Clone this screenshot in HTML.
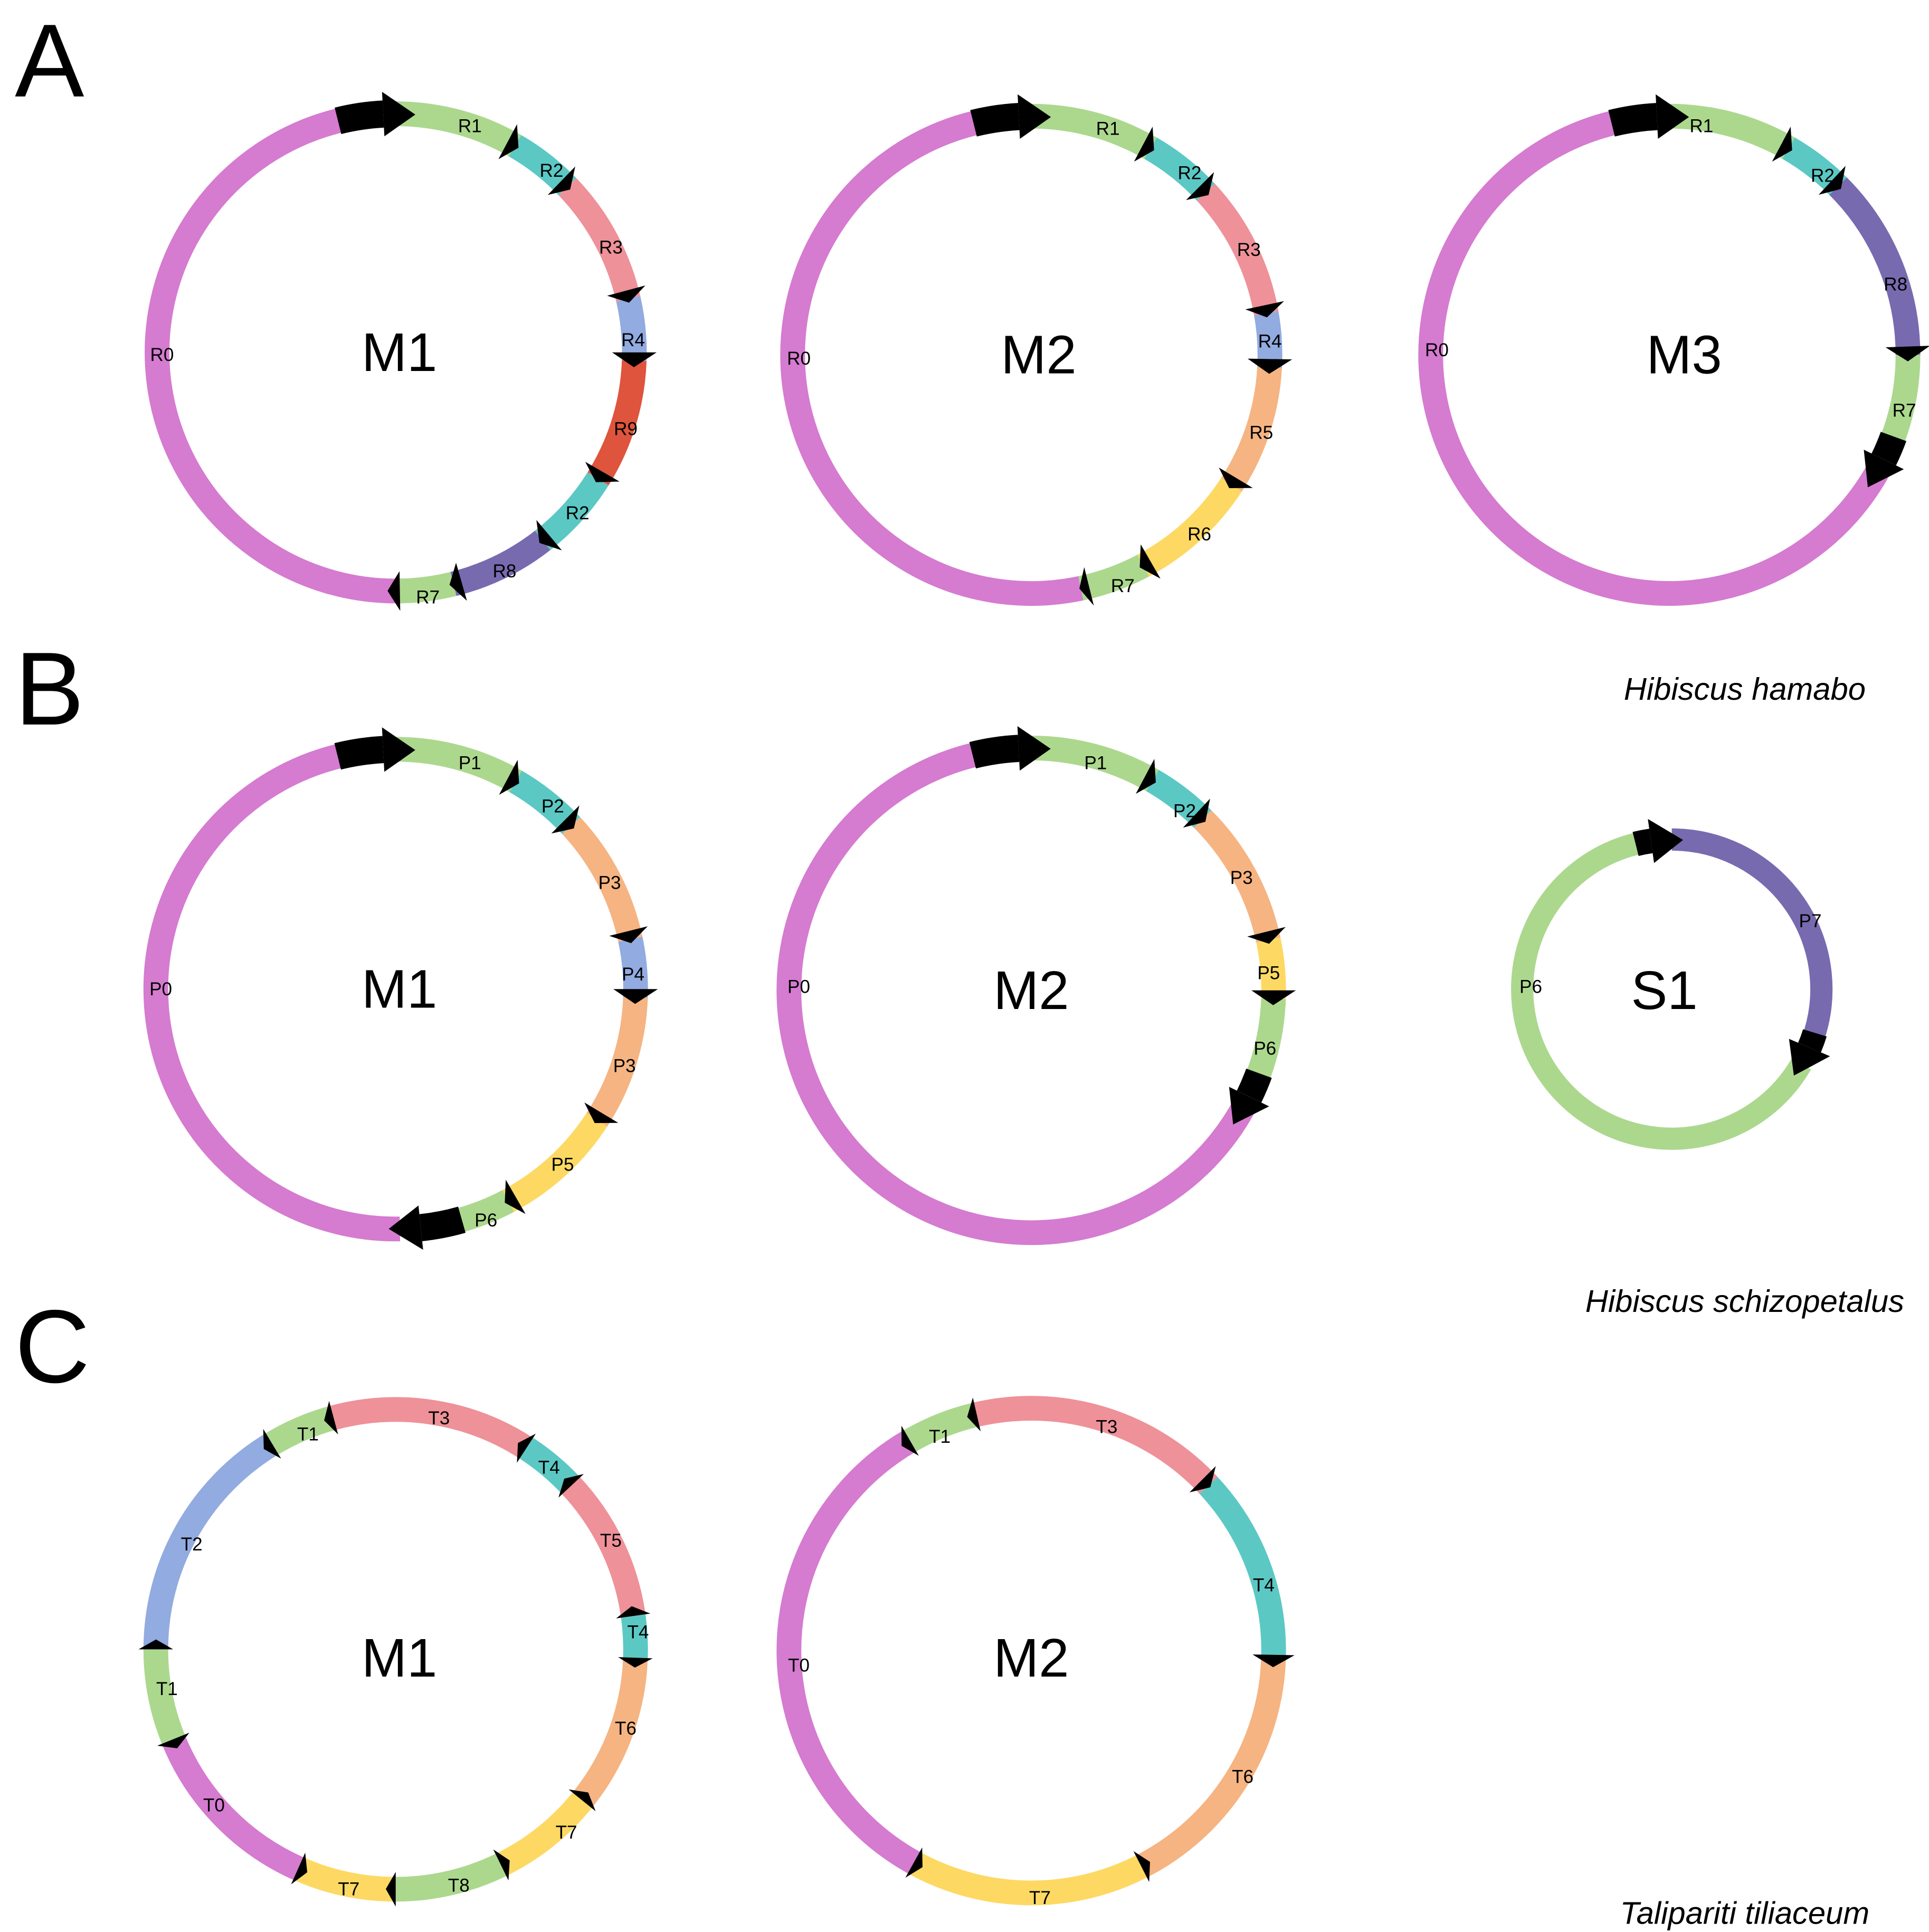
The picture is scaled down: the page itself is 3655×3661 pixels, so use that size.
<!DOCTYPE html>
<html><head><meta charset="utf-8"><style>
html,body{margin:0;padding:0;background:#fff}
svg{display:block}
text{font-family:"Liberation Sans",Arial,sans-serif}
.l{font-size:15px}
.m{font-size:44px}
.big{font-size:84px}
.sp{font-size:25.5px;font-style:italic}
</style></head><body>
<svg id="s" width="3655" height="3661" viewBox="0 0 1560 1562.6" xmlns="http://www.w3.org/2000/svg">
<g id="g"></g>
<text class="big" x="12" y="78">A</text>
<text class="big" x="12" y="586">B</text>
<text class="big" x="12" y="1118">C</text>
<text class="sp" x="1411" y="566" text-anchor="middle">Hibiscus hamabo</text>
<text class="sp" x="1411" y="1061" text-anchor="middle">Hibiscus schizopetalus</text>
<text class="sp" x="1411" y="1556" text-anchor="middle">Talipariti tiliaceum</text>
<g text-anchor="middle">
<text class="m" x="323" y="300">M1</text>
<text class="m" x="840" y="302">M2</text>
<text class="m" x="1362" y="302">M3</text>
<text class="m" x="323" y="815">M1</text>
<text class="m" x="834" y="816">M2</text>
<text class="m" x="1346" y="816">S1</text>
<text class="m" x="323" y="1356">M1</text>
<text class="m" x="834" y="1356">M2</text>
</g>
<g class="l" text-anchor="middle">
<text x="380" y="107">R1</text><text x="446" y="143">R2</text><text x="494" y="205">R3</text><text x="512" y="280">R4</text><text x="506" y="352">R9</text><text x="467" y="420">R2</text><text x="408" y="467">R8</text><text x="346" y="488">R7</text><text x="131" y="292">R0</text>
<text x="896" y="109">R1</text><text x="962" y="145">R2</text><text x="1010" y="207">R3</text><text x="1027" y="281">R4</text><text x="1020" y="355">R5</text><text x="970" y="437">R6</text><text x="908" y="479">R7</text><text x="646" y="295">R0</text>
<text x="1376" y="107">R1</text><text x="1474" y="147">R2</text><text x="1533" y="235">R8</text><text x="1540" y="337">R7</text><text x="1162" y="288">R0</text>
<text x="380" y="622">P1</text><text x="447" y="657">P2</text><text x="493" y="719">P3</text><text x="512" y="793">P4</text><text x="505" y="867">P3</text><text x="455" y="947">P5</text><text x="393" y="992">P6</text><text x="130" y="805">P0</text>
<text x="886" y="622">P1</text><text x="958" y="661">P2</text><text x="1004" y="715">P3</text><text x="1026" y="792">P5</text><text x="1023" y="853">P6</text><text x="646" y="803">P0</text>
<text x="1464" y="750">P7</text><text x="1238" y="803">P6</text>
<text x="355" y="1152">T3</text><text x="249" y="1165">T1</text><text x="444" y="1192">T4</text><text x="155" y="1254">T2</text><text x="494" y="1251">T5</text><text x="516" y="1325">T4</text><text x="135" y="1371">T1</text><text x="506" y="1403">T6</text><text x="173" y="1465">T0</text><text x="458" y="1487">T7</text><text x="371" y="1530">T8</text><text x="282" y="1533">T7</text>
<text x="760" y="1167">T1</text><text x="895" y="1159">T3</text><text x="1022" y="1287">T4</text><text x="1005" y="1442">T6</text><text x="841" y="1540">T7</text><text x="646" y="1352">T0</text>
</g>
</svg>
<script>
var NS="http://www.w3.org/2000/svg",G=document.getElementById('g');
var C={mg:"#d57bd0",gr:"#acd88e",te:"#5bc8c4",pk:"#ee9199",bl:"#92abe0",rd:"#de543c",pu:"#786aaf",or:"#f5b482",ye:"#fdd963",k:"#000"};
var W=20;
function pt(cx,cy,r,a){var t=a*Math.PI/180;return [cx+r*Math.sin(t),cy-r*Math.cos(t)];}
function arc(cx,cy,r,a0,a1,col,w){var p=pt(cx,cy,r,a0),q=pt(cx,cy,r,a1);var d=a1-a0;var e=document.createElementNS(NS,'path');
e.setAttribute('d','M'+p[0]+' '+p[1]+' A'+r+' '+r+' 0 '+(Math.abs(d)>180?1:0)+' '+(d>0?1:0)+' '+q[0]+' '+q[1]);
e.setAttribute('fill','none');e.setAttribute('stroke',C[col]);e.setAttribute('stroke-width',w||W);G.appendChild(e);}
function head(cx,cy,r,a,len,hw,dir){dir=dir||1;var p1=pt(cx,cy,r-hw,a),p2=pt(cx,cy,r+hw,a),t=pt(cx,cy,r,a+dir*len*57.3/r);
var e=document.createElementNS(NS,'polygon');e.setAttribute('points',p1+' '+t+' '+p2);e.setAttribute('fill','#000');G.appendChild(e);}
function ring(cx,cy,r,segs,arrows,blocks,w){
segs.forEach(function(s){arc(cx,cy,r,s[0],s[1],s[2],w);});
(blocks||[]).forEach(function(b){arc(cx,cy,r,b[0],b[1],'k',(w||W)+2);head(cx,cy,r,b[1],26,18,1);});
(arrows||[]).forEach(function(a){head(cx,cy,r,a[0],a[1]||10,a[2]||16,a[3]||1);});}
// A M1
ring(320,285,193,[[178,346.5,'mg'],[-10,30,'gr'],[30,46,'te'],[46,77,'pk'],[77,92,'bl'],[92,122,'rd'],[122,142,'te'],[142,166,'pu'],[166,180,'gr']],
[[28],[44],[75],[90,12,18],[120],[140],[164],[179]],[[-14,-3]]);
// A M2
ring(834,287,193,[[168,346.5,'mg'],[-10,30,'gr'],[30,47,'te'],[47,80,'pk'],[80,93,'bl'],[93,123,'or'],[123,152,'ye'],[152,168,'gr']],
[[28],[45],[78],[91,12,18],[121],[150],[166,8]],[[-14,-3]]);
// A M3
ring(1350,287,193,[[119,346.5,'mg'],[-10,30,'gr'],[30,45,'te'],[45,90,'pu'],[90,111,'gr']],
[[28],[43],[88,12,18]],[[-14,-3],[110,116]]);
// B M1
ring(320,800,194,[[179,346.5,'mg'],[-10,30,'gr'],[30,47,'te'],[47,78,'or'],[78,92,'bl'],[92,123,'or'],[123,152,'ye'],[152,165,'gr']],
[[28],[45],[76],[90,12,18],[121],[150]],[[-14,-3],[164,174]]);
// B M2
ring(834,801,196,[[119,346.5,'mg'],[-10,30,'gr'],[30,45,'te'],[45,78,'or'],[78,92,'ye'],[92,111,'gr']],
[[28],[43],[76],[90,12,18]],[[-14,-3],[110,116]]);
// B S1
ring(1352,800,121,[[120,346,'gr'],[0,110,'pu']],[],[[-14,-8],[107,113]],18);
// C M1
ring(320,1334,194,[[-15,33,'pk'],[33,47,'te'],[47,82,'pk'],[82,92,'te'],[92,129,'or'],[129,154,'ye'],[154,180,'gr'],[180,204,'ye'],[204,248,'mg'],[248,270,'gr'],[270,329,'bl'],[329,345,'gr']],
[[-15,8,14,-1],[-31,8,14,-1],[33,8,14,-1],[47,8,14,-1],[82,8,14,-1],[92,8,14],[129,8,14,-1],[154,8,14,-1],[180,8,14],[204,8,14,-1],[248,8,14,-1],[270,8,14]]);
// C M2
ring(834,1335,196,[[-30,-13,'gr'],[-13,47,'pk'],[47,92,'te'],[92,153,'or'],[153,209,'ye'],[209,330,'mg']],
[[-30,8,14,-1],[-13,8,14,-1],[45,9,15],[91,10,17],[153,8,14,-1],[209,8,14,-1]]);
</script>
</body></html>
